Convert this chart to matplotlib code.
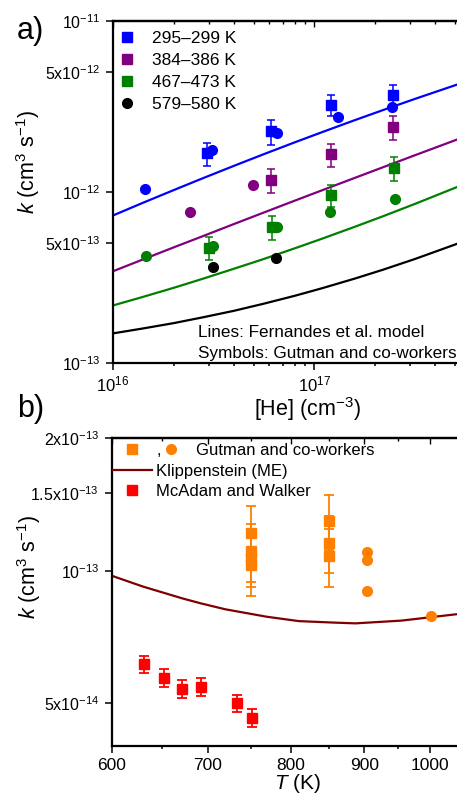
import matplotlib
matplotlib.use("Agg")
import matplotlib.pyplot as plt
from matplotlib.lines import Line2D
from matplotlib.ticker import NullLocator

plt.rcParams["font.family"] = ["Liberation Sans", "DejaVu Sans"]
plt.rcParams["mathtext.fontset"] = "custom"
plt.rcParams["mathtext.rm"] = "Liberation Sans"
plt.rcParams["mathtext.it"] = "Liberation Sans:italic"
plt.rcParams["mathtext.bf"] = "Liberation Sans:bold"

# -----------------------------
# Panel a) data  ([He] in cm^-3, k in cm^3 s^-1)
# -----------------------------
he_blue_sq = [2.94e16, 6.14e16, 1.22e17, 2.48e17]
k_blue_sq = [1.68e-12, 2.26e-12, 3.24e-12, 3.68e-12]
err_blue_sq = [0.26e-12, 0.37e-12, 0.45e-12, 0.57e-12]
he_blue_ci = [1.45e16, 3.11e16, 6.52e16, 1.32e17, 2.43e17]
k_blue_ci = [1.04e-12, 1.76e-12, 2.20e-12, 2.73e-12, 3.15e-12]

he_purple_sq = [6.14e16, 1.22e17, 2.48e17]
k_purple_sq = [1.18e-12, 1.66e-12, 2.39e-12]
err_purple_sq = [0.19e-12, 0.26e-12, 0.38e-12]
he_purple_ci = [2.42e16, 4.99e16]
k_purple_ci = [0.766e-12, 1.10e-12]

he_green_sq = [2.99e16, 6.18e16, 1.22e17, 2.50e17]
k_green_sq = [0.471e-12, 0.623e-12, 0.954e-12, 1.38e-12]
err_green_sq = [0.073e-12, 0.099e-12, 0.14e-12, 0.22e-12]
he_green_ci = [1.46e16, 3.15e16, 6.52e16, 1.20e17, 2.54e17]
k_green_ci = [0.425e-12, 0.482e-12, 0.623e-12, 0.766e-12, 0.916e-12]

he_black_ci = [3.15e16, 6.46e16]
k_black_ci = [0.363e-12, 0.412e-12]

he_model = [1.0e16, 1.4e16, 2.0e16, 2.8e16, 4.0e16, 5.6e16, 8.0e16,
            1.1e17, 1.6e17, 2.2e17, 3.2e17, 5.15e17]
k_model_blue = [7.29e-13, 8.62e-13, 10.25e-13, 12.04e-13, 14.23e-13, 16.61e-13, 19.50e-13,
                22.42e-13, 26.35e-13, 30.12e-13, 35.14e-13, 42.50e-13]
k_model_purple = [3.44e-13, 4.02e-13, 4.74e-13, 5.52e-13, 6.50e-13, 7.57e-13, 8.89e-13,
                  10.25e-13, 12.11e-13, 13.95e-13, 16.46e-13, 20.28e-13]
k_model_green = [2.17e-13, 2.43e-13, 2.75e-13, 3.11e-13, 3.56e-13, 4.05e-13, 4.68e-13,
                 5.34e-13, 6.27e-13, 7.21e-13, 8.55e-13, 10.70e-13]
k_model_black = [1.49e-13, 1.59e-13, 1.71e-13, 1.85e-13, 2.02e-13, 2.22e-13, 2.47e-13,
                 2.74e-13, 3.12e-13, 3.51e-13, 4.07e-13, 4.98e-13]

temp_labels = ["295\u2013299 K", "384\u2013386 K", "467\u2013473 K", "579\u2013580 K"]

# -----------------------------
# Panel b) data  (T in K)
# -----------------------------
t_gutman_sq = [750, 750, 750, 750, 850, 850, 850]
k_gutman_sq = [1.216e-13, 1.109e-13, 1.070e-13, 1.030e-13, 1.299e-13, 1.158e-13, 1.080e-13]
err_gutman_sq = [0.187e-13, 0.168e-13, 0.150e-13, 0.154e-13, 0.187e-13, 0.171e-13, 0.163e-13]
t_gutman_ci = [903, 903, 903, 1002]
k_gutman_ci = [1.101e-13, 1.057e-13, 0.899e-13, 0.789e-13]

t_mcadam = [632, 652, 672, 692, 733, 752]
k_mcadam = [6.13e-14, 5.71e-14, 5.38e-14, 5.45e-14, 5.00e-14, 4.63e-14]
err_mcadam = [0.28e-14, 0.26e-14, 0.255e-14, 0.25e-14, 0.225e-14, 0.215e-14]

t_klipp = [600, 631, 672, 692, 720, 769, 810, 857, 887, 955, 1046]
k_klipp = [9.74e-14, 9.20e-14, 8.65e-14, 8.43e-14, 8.17e-14, 7.86e-14, 7.68e-14,
           7.62e-14, 7.59e-14, 7.70e-14, 7.97e-14]

BLUE, PURPLE, GREEN, BLACK = "#0000FF", "#800080", "#008000", "#000000"
ORANGE, RED, DARKRED = "#FF8000", "#FF0000", "#800000"


def style_axes(ax):
    for side in ["left", "bottom", "top"]:
        ax.spines[side].set_linewidth(1.6)
    ax.spines["right"].set_visible(False)
    ax.tick_params(which="both", direction="out", width=1.1, top=False, right=False)
    ax.tick_params(which="major", length=5)
    ax.tick_params(which="minor", length=2.5)
    sec = ax.secondary_xaxis("top")
    sec.tick_params(which="both", direction="in", width=1.0, labeltop=False)
    sec.tick_params(which="major", length=4)
    sec.tick_params(which="minor", length=2.5)
    sec.spines["top"].set_linewidth(1.6)
    return sec


def main():
    fig = plt.figure(figsize=(4.57, 7.96), dpi=100)
    ax1 = fig.add_axes([113 / 457, 1 - 363 / 796, 344 / 457, 342 / 796])
    ax2 = fig.add_axes([111.7 / 457, 1 - 745.7 / 796, 345.3 / 457, 307.4 / 796])

    # --- panel a ---
    ax1.set_xscale("log")
    ax1.set_yscale("log")
    ax1.set_xlim(1e16, 5.14e17)
    ax1.set_ylim(1e-13, 1e-11)

    ekw = dict(fmt="s", ms=7, capsize=3.1, elinewidth=1.1, capthick=1.1, zorder=4)
    for k_c, col in [(k_model_blue, BLUE), (k_model_purple, PURPLE),
                     (k_model_green, GREEN), (k_model_black, BLACK)]:
        ax1.plot(he_model, k_c, color=col, lw=1.6, zorder=2)
    ax1.errorbar(he_blue_sq, k_blue_sq, yerr=err_blue_sq, color=BLUE, **ekw)
    ax1.errorbar(he_purple_sq, k_purple_sq, yerr=err_purple_sq, color=PURPLE, **ekw)
    ax1.errorbar(he_green_sq, k_green_sq, yerr=err_green_sq, color=GREEN, **ekw)
    ax1.plot(he_blue_ci, k_blue_ci, "o", color=BLUE, ms=7, zorder=3)
    ax1.plot(he_purple_ci, k_purple_ci, "o", color=PURPLE, ms=7, zorder=3)
    ax1.plot(he_green_ci, k_green_ci, "o", color=GREEN, ms=7, zorder=3)
    ax1.plot(he_black_ci, k_black_ci, "o", color=BLACK, ms=7, zorder=3)

    style_axes(ax1)
    ax1.set_xticks([1e16, 1e17], ["$10^{16}$", "$10^{17}$"])
    ax1.set_yticks([1e-13, 5e-13, 1e-12, 5e-12, 1e-11],
                   ["10$^{-13}$", "5x10$^{-13}$", "10$^{-12}$", "5x10$^{-12}$", "10$^{-11}$"])
    ax1.yaxis.set_minor_locator(NullLocator())
    ax1.tick_params(axis="x", labelsize=12, pad=3)
    ax1.tick_params(axis="y", labelsize=11.5, pad=4)

    ax1.set_xlabel("[He] (cm$^{-3}$)", fontsize=15.5)
    ax1.xaxis.set_label_coords(0.565, -0.094)
    ax1.set_ylabel("$k$ (cm$^3$ s$^{-1}$)", fontsize=15.5)
    ax1.yaxis.set_label_coords(-0.205, 0.589)

    handles = [Line2D([], [], ls="none", marker="s", ms=7, color=BLUE),
               Line2D([], [], ls="none", marker="s", ms=7, color=PURPLE),
               Line2D([], [], ls="none", marker="s", ms=7, color=GREEN),
               Line2D([], [], ls="none", marker="o", ms=7, color=BLACK)]
    ax1.legend(handles, temp_labels, loc="upper left", bbox_to_anchor=(0.0146, 0.971),
               frameon=False, fontsize=12.5, handlelength=1.0, handletextpad=0.94,
               labelspacing=0.40, borderpad=0, borderaxespad=0)

    ax1.text(0.246, 0.075, "Lines: Fernandes et al. model", transform=ax1.transAxes,
             fontsize=12.3, va="baseline")
    ax1.text(0.246, 0.0137, "Symbols: Gutman and co-workers", transform=ax1.transAxes,
             fontsize=12.3, va="baseline")

    # --- panel b ---
    ax2.set_xscale("log")
    ax2.set_yscale("log")
    ax2.set_xlim(600, 1044)
    ax2.set_ylim(4e-14, 2e-13)

    ax2.plot(t_klipp, k_klipp, color=DARKRED, lw=1.6, zorder=2)
    ax2.errorbar(t_gutman_sq, k_gutman_sq, yerr=err_gutman_sq, fmt="s", ms=7, color=ORANGE,
                 capsize=3.6, elinewidth=1.3, capthick=1.3, zorder=4)
    ax2.plot(t_gutman_ci, k_gutman_ci, "o", ms=7, color=ORANGE, zorder=3)
    ax2.errorbar(t_mcadam, k_mcadam, yerr=err_mcadam, fmt="s", ms=7, color=RED,
                 capsize=3.6, elinewidth=1.3, capthick=1.3, zorder=4)

    sec2 = style_axes(ax2)
    ax2.set_xticks([600, 700, 800, 900, 1000], ["600", "700", "800", "900", "1000"])
    ax2.set_xticks([650, 750, 850, 950], minor=True)
    ax2.xaxis.set_minor_formatter(plt.NullFormatter())
    sec2.set_xticks([600, 700, 800, 900, 1000])
    sec2.set_xticks([650, 750, 850, 950], minor=True)
    ax2.set_yticks([5e-14, 1e-13, 1.5e-13, 2e-13],
                   ["5x10$^{-14}$", "10$^{-13}$", "1.5x10$^{-13}$", "2x10$^{-13}$"])
    ax2.yaxis.set_minor_locator(NullLocator())
    ax2.tick_params(axis="x", labelsize=12.5, pad=4)
    ax2.tick_params(axis="y", labelsize=11.5, pad=4)

    ax2.set_xlabel("$T$ (K)", fontsize=15)
    ax2.xaxis.set_label_coords(0.539, -0.087)
    ax2.set_ylabel("$k$ (cm$^3$ s$^{-1}$)", fontsize=15.5)
    ax2.yaxis.set_label_coords(-0.198, 0.583)

    leg_a = ax2.legend([Line2D([], [], ls="none", marker="s", ms=7, color=ORANGE),
                        Line2D([], [], ls="none", marker="o", ms=7, color=ORANGE)],
                       [",", "Gutman and co-workers"], ncol=2, loc="upper left",
                       bbox_to_anchor=(0.0334, 0.986), frameon=False, fontsize=12,
                       handlelength=1.0, handletextpad=1.02, columnspacing=0.08,
                       borderpad=0, borderaxespad=0)
    ax2.add_artist(leg_a)
    ax2.legend([Line2D([], [], color=DARKRED, lw=1.6),
                Line2D([], [], ls="none", marker="s", ms=7, color=RED)],
               ["Klippenstein (ME)", "McAdam and Walker"], loc="upper left",
               bbox_to_anchor=(0.0037, 0.918), frameon=False, fontsize=12,
               handlelength=2.32, handletextpad=0.24, labelspacing=0.31,
               borderpad=0, borderaxespad=0)

    # panel labels
    fig.text(17 / 457, 1 - 39 / 796, "a)", fontsize=22, va="baseline")
    fig.text(17 / 457, 1 - 417 / 796, "b)", fontsize=22, va="baseline")

    fig.savefig("out.png", dpi=100)


if __name__ == "__main__":
    main()
